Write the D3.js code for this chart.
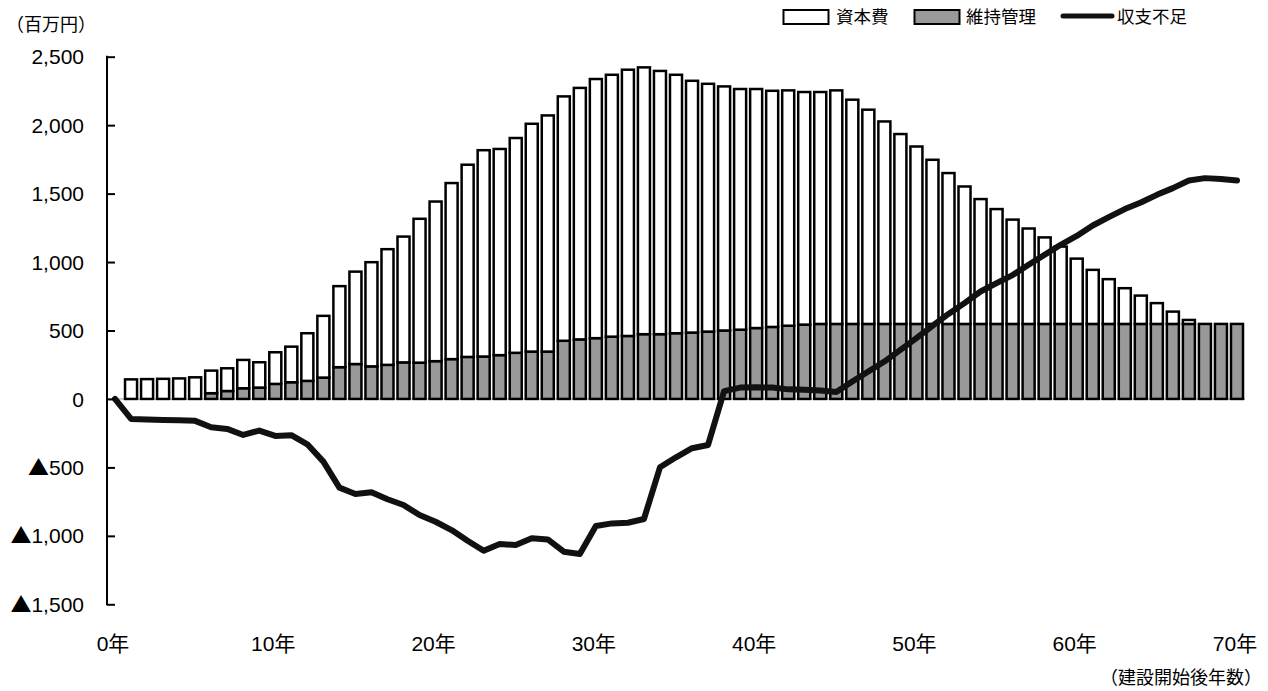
<!DOCTYPE html>
<html>
<head>
<meta charset="utf-8">
<script src="https://cdn.jsdelivr.net/npm/d3@7"></script>
<style>
  html, body { margin: 0; padding: 0; background: #fff; }
  svg { display: block; }
  text { font-family: "Liberation Sans", "Noto Sans CJK JP", sans-serif; fill: #000; }
  .cjk { font-family: "Noto Sans CJK JP", sans-serif; }
</style>
</head>
<body>
<svg id="chart" width="1268" height="691"></svg>
<script>
// ---- data ----
const years = [0,1,2,3,4,5,6,7,8,9,10,11,12,13,14,15,16,17,18,19,20,21,22,23,24,25,26,27,28,29,30,31,32,33,34,35,36,37,38,39,40,41,42,43,44,45,46,47,48,49,50,51,52,53,54,55,56,57,58,59,60,61,62,63,64,65,66,67,68,69,70];
// 資本費 (capital cost, stacked on top)
const capital = [0,143,145,147,150,158,165,166,207,185,231,260,348,451,592,675,761,845,919,1051,1166,1286,1404,1507,1506,1569,1664,1725,1785,1837,1893,1913,1945,1949,1923,1888,1839,1810,1783,1758,1746,1725,1719,1699,1694,1706,1638,1565,1479,1387,1296,1199,1102,1004,912,839,762,697,632,565,477,395,327,261,207,152,90,29,0,0,0];
// 維持管理 (maintenance, bottom of stack)
const maintenance = [0,0,0,0,0,0,42,58,78,83,110,122,132,156,232,255,238,249,267,265,276,291,307,310,320,337,346,346,425,435,444,455,460,473,473,480,485,492,500,506,518,526,535,543,548,548,548,548,548,548,548,548,548,548,548,548,548,548,548,548,548,548,548,548,548,548,548,548,548,548,548];
// 収支不足 (balance line)
const balance = [0,-146,-150,-153,-156,-160,-207,-219,-263,-231,-270,-265,-331,-458,-648,-694,-682,-733,-775,-848,-897,-958,-1036,-1109,-1060,-1067,-1018,-1026,-1116,-1133,-928,-909,-904,-877,-499,-426,-360,-336,57,83,85,83,70,68,61,51,127,200,273,358,444,534,621,700,785,846,905,980,1053,1126,1191,1267,1328,1387,1435,1491,1540,1596,1613,1606,1596];
const yTicks = [-1500,-1000,-500,0,500,1000,1500,2000,2500];
const yTickLabels = ["▲1,500","▲1,000","▲500","0","500","1,000","1,500","2,000","2,500"];
const xTickYears = [0,10,20,30,40,50,60,70];
const xTickLabels = ["0年","10年","20年","30年","40年","50年","60年","70年"];
const seriesNames = ["資本費","維持管理","収支不足"];
const yUnit = "（百万円）";
const xUnit = "（建設開始後年数）";

// ---- layout ----
const svg = d3.select("#chart");
const plotLeft = 107, plotRight = 1245, plotTop = 56.7, plotBottom = 604.3;

const x = d3.scaleBand()
  .domain(years)
  .range([plotLeft, plotRight])
  .paddingInner(0.25)
  .paddingOuter(0.125);
const y = d3.scaleLinear().domain([-1500, 2500]).range([plotBottom, plotTop]);
const cx = d => x(d) + x.bandwidth() / 2;

// baseline at zero
svg.append("line")
  .attr("x1", plotLeft).attr("x2", plotRight)
  .attr("y1", y(0)).attr("y2", y(0))
  .attr("stroke", "#999").attr("stroke-width", 1);

// stacked bars
const stackData = years.map((yr, i) => ({ year: yr, maintenance: maintenance[i], capital: capital[i] }));
const stack = d3.stack().keys(["maintenance", "capital"]);
const layers = stack(stackData);
const fills = { maintenance: "#999999", capital: "#ffffff" };

svg.append("g").selectAll("g")
  .data(layers)
  .join("g")
  .attr("fill", d => fills[d.key])
  .selectAll("rect")
  .data(d => d.filter(s => s[1] - s[0] > 0))
  .join("rect")
  .attr("x", d => x(d.data.year))
  .attr("width", x.bandwidth())
  .attr("y", d => y(d[1]))
  .attr("height", d => y(d[0]) - y(d[1]))
  .attr("stroke", "#000")
  .attr("stroke-width", 2.5);

// balance line
const line = d3.line()
  .x((d, i) => cx(years[i]))
  .y(d => y(d));
svg.append("path")
  .datum(balance)
  .attr("d", line)
  .attr("fill", "none")
  .attr("stroke", "#111")
  .attr("stroke-width", 6)
  .attr("stroke-linejoin", "round")
  .attr("stroke-linecap", "round");

// y axis
const yAxis = d3.axisRight(y)
  .tickValues(yTicks)
  .tickSize(8)
  .tickFormat((d, i) => yTickLabels[i]);
const yg = svg.append("g").attr("transform", `translate(${plotLeft},0)`).call(yAxis);
yg.select(".domain").remove();
yg.selectAll(".tick line").attr("stroke", "#000").attr("stroke-width", 2);
yg.selectAll(".tick text").remove();
yg.append("line")
  .attr("x1", 0).attr("x2", 0)
  .attr("y1", plotTop - 1).attr("y2", plotBottom + 1)
  .attr("stroke", "#000").attr("stroke-width", 2);

const yl = svg.append("g").selectAll("text")
  .data(yTicks)
  .join("text")
  .attr("x", 84)
  .attr("y", d => y(d))
  .attr("dy", "0.36em")
  .attr("text-anchor", "end")
  .attr("font-size", 21);
yl.each(function(d, i) {
  const t = d3.select(this);
  const label = yTickLabels[i];
  if (label.startsWith("▲")) {
    t.append("tspan").attr("class", "cjk").text("▲");
    t.append("tspan").text(label.slice(1));
  } else {
    t.text(label);
  }
});

// x labels
svg.append("g").selectAll("text")
  .data(xTickYears)
  .join("text")
  .attr("x", d => cx(d) - 2)
  .attr("y", 643)
  .attr("dy", "0.36em")
  .attr("text-anchor", "middle")
  .attr("font-size", 21)
  .text((d, i) => xTickLabels[i]);

// unit labels
svg.append("text").attr("class", "cjk")
  .attr("x", 6).attr("y", 25).attr("dy", "0.36em")
  .attr("font-size", 18).text(yUnit);
svg.append("text").attr("class", "cjk")
  .attr("x", 1262).attr("y", 678).attr("dy", "0.36em")
  .attr("text-anchor", "end")
  .attr("font-size", 18).text(xUnit);

// legend
const lg = svg.append("g");
lg.append("rect").attr("x", 783.5).attr("y", 10).attr("width", 45).attr("height", 14)
  .attr("fill", "#fff").attr("stroke", "#000").attr("stroke-width", 2);
lg.append("text").attr("class", "cjk").attr("x", 836).attr("y", 17).attr("dy", "0.36em")
  .attr("font-size", 17.5).text(seriesNames[0]);
lg.append("rect").attr("x", 914.5).attr("y", 10).attr("width", 45).attr("height", 14)
  .attr("fill", "#999999").attr("stroke", "#000").attr("stroke-width", 2);
lg.append("text").attr("class", "cjk").attr("x", 966).attr("y", 17).attr("dy", "0.36em")
  .attr("font-size", 17.5).text(seriesNames[1]);
lg.append("line").attr("x1", 1063).attr("x2", 1112).attr("y1", 16).attr("y2", 16)
  .attr("stroke", "#111").attr("stroke-width", 5).attr("stroke-linecap", "round");
lg.append("text").attr("class", "cjk").attr("x", 1117).attr("y", 17).attr("dy", "0.36em")
  .attr("font-size", 17.5).text(seriesNames[2]);
</script>
</body>
</html>
